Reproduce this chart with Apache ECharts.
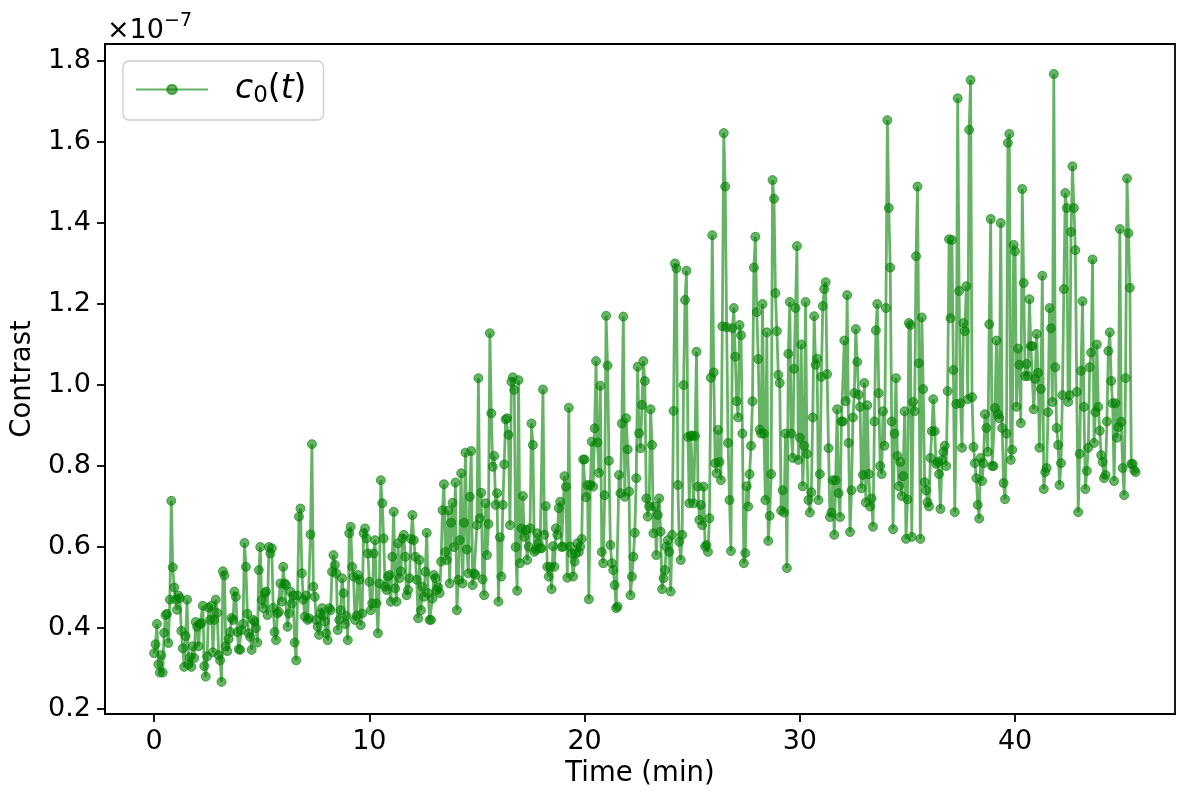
<!DOCTYPE html>
<html>
<head>
<meta charset="utf-8">
<script src="https://cdn.jsdelivr.net/npm/echarts@6/dist/echarts.min.js"></script>
<style>html,body{margin:0;padding:0;background:#fff}#c{width:1200px;height:800px}</style>
</head>
<body>
<div id="c"></div>
<script>
const SAMPLE_SECONDS = 4;
const seriesName = 'c0(t)';
// Contrast values in units of 1e-7, one row per minute (15 samples per minute)
const contrast_00_10 = [
  0.338,0.36,0.41,0.31,0.29,0.333,0.29,0.388,0.432,0.435,0.363,0.47,0.714,0.55,0.50,
  0.47,0.445,0.48,0.474,0.393,0.35,0.304,0.38,0.47,0.31,0.328,0.304,0.355,0.326,0.415,
  0.403,0.355,0.41,0.412,0.455,0.306,0.28,0.33,0.45,0.42,0.455,0.34,0.42,0.47,0.437,
  0.333,0.32,0.267,0.54,0.53,0.355,0.343,0.373,0.39,0.425,0.42,0.49,0.477,0.39,0.348,
  0.346,0.395,0.41,0.61,0.551,0.435,0.387,0.378,0.346,0.42,0.416,0.40,0.364,0.543,0.60,
  0.469,0.449,0.486,0.49,0.432,0.60,0.584,0.597,0.45,0.39,0.37,0.436,0.44,0.51,0.465,
  0.551,0.51,0.506,0.403,0.436,0.49,0.46,0.48,0.364,0.32,0.48,0.675,0.695,0.535,0.47,
  0.428,0.48,0.42,0.424,0.631,0.854,0.502,0.477,0.42,0.403,0.383,0.436,0.449,0.43,0.416,
  0.387,0.37,0.449,0.444,0.539,0.58,0.556,0.535,0.395,0.42,0.444,0.523,0.486,0.41,0.43,
  0.37,0.634,0.65,0.551,0.527,0.42,0.43,0.531,0.519,0.407,0.436,0.634,0.646,0.621,0.584
];
const contrast_10_20 = [
  0.514,0.444,0.461,0.584,0.617,0.461,0.387,0.51,0.765,0.708,0.621,0.502,0.494,0.527,0.531,
  0.465,0.576,0.687,0.498,0.465,0.609,0.523,0.54,0.621,0.63,0.576,0.481,0.494,0.523,0.62,
  0.679,0.617,0.576,0.519,0.424,0.568,0.444,0.502,0.477,0.539,0.635,0.486,0.42,0.42,0.473,
  0.531,0.523,0.494,0.50,0.486,0.564,0.691,0.755,0.588,0.568,0.69,0.51,0.66,0.709,0.60,
  0.759,0.444,0.519,0.617,0.782,0.51,0.66,0.833,0.594,0.535,0.724,0.837,0.506,0.535,0.531,
  0.654,1.017,0.671,0.734,0.52,0.481,0.708,0.58,0.657,1.128,0.93,0.798,0.825,0.704,0.733,
  0.465,0.624,0.527,0.704,0.804,0.915,0.918,0.877,0.654,1.008,1.019,0.988,0.60,0.492,1.012,
  0.56,0.646,0.726,0.625,0.642,0.568,0.601,0.646,0.905,0.852,0.588,0.593,0.634,0.61,0.597,
  0.597,0.989,0.63,0.701,0.551,0.527,0.551,0.496,0.602,0.551,0.646,0.63,0.696,0.712,0.60,
  0.601,0.775,0.749,0.524,0.944,0.601,0.584,0.527,0.564,0.584,0.609,0.588,0.601,0.62,0.816
];
const contrast_20_30 = [
  0.816,0.723,0.753,0.471,0.753,0.86,0.749,0.893,1.059,0.858,0.783,0.998,0.588,0.56,0.728,
  1.171,1.048,0.813,0.605,0.56,0.543,0.506,0.449,0.453,0.778,0.733,0.905,1.169,0.724,0.918,
  0.841,0.737,0.481,0.527,0.576,0.635,0.77,1.045,0.881,0.844,0.951,1.059,1.01,0.72,0.675,
  0.70,0.94,0.852,0.634,0.70,0.58,0.679,0.72,0.638,0.496,0.523,0.543,0.601,0.617,0.588,
  0.49,0.63,0.936,1.30,1.288,0.753,0.613,0.568,0.63,1.0,1.21,1.282,0.872,0.708,0.875,
  0.875,0.708,0.874,1.082,0.749,0.667,0.704,0.654,0.749,0.601,0.605,0.588,0.671,1.018,1.37,
  1.031,0.807,0.782,0.889,0.81,0.765,1.145,1.622,1.49,1.143,0.857,0.716,0.59,1.14,1.19,
  1.07,0.96,0.92,1.148,1.123,0.88,0.56,0.585,0.75,0.70,0.78,0.85,0.96,1.29,1.366,
  1.18,1.064,0.89,0.88,1.20,0.88,0.716,1.13,0.615,0.677,0.78,1.506,1.46,1.227,1.133,
  1.025,1.005,0.69,0.74,0.685,0.88,0.548,1.077,1.205,0.88,0.82,1.04,1.19,1.343,0.815
];
const contrast_30_40 = [
  0.87,1.10,0.75,0.85,1.205,0.83,0.716,0.685,0.735,0.92,1.17,1.05,1.065,0.716,0.78,
  1.02,1.195,1.237,1.254,1.027,0.844,0.674,0.685,0.765,0.63,0.765,0.94,0.733,0.674,0.91,
  0.91,1.11,0.96,1.222,0.857,0.637,0.74,0.92,0.98,1.138,1.057,0.976,0.946,0.745,0.778,
  1.005,0.71,0.95,0.78,0.70,0.72,0.65,0.91,1.135,1.20,0.98,0.80,0.78,0.935,0.85,
  1.19,1.654,1.437,1.29,0.91,0.644,0.88,1.017,0.825,0.75,0.81,0.726,0.775,0.935,0.62,
  0.718,1.153,1.148,0.625,0.958,0.935,1.318,1.49,1.054,0.62,1.167,0.99,0.76,0.74,0.71,
  0.70,0.82,0.886,0.965,0.886,0.805,0.81,0.78,0.694,0.815,0.835,0.85,0.80,0.985,1.36,
  1.165,1.358,1.037,0.686,0.953,1.708,1.232,0.955,0.845,1.153,1.133,1.244,0.965,1.63,1.753,
  0.97,0.847,0.807,0.77,0.704,0.67,0.82,0.763,0.807,0.928,0.894,0.835,1.15,1.41,0.80,
  0.80,0.943,1.11,0.928,0.918,1.40,0.894,0.758,0.718,0.88,1.598,1.62,0.815,0.84,1.346
];
const contrast_40_46 = [
  1.33,0.946,1.09,1.05,0.906,1.484,1.252,1.022,1.052,1.022,1.212,1.096,1.096,0.94,1.015,
  1.126,1.03,0.845,0.99,1.27,0.743,0.785,0.795,0.933,1.19,1.14,0.958,1.768,1.044,0.894,
  0.852,0.753,0.807,0.975,1.237,1.474,1.437,0.958,0.975,1.378,1.54,1.437,1.333,0.983,0.686,
  0.83,1.035,1.207,0.946,0.743,0.788,0.845,1.044,1.08,1.31,0.857,0.933,1.10,0.946,0.887,
  0.827,0.81,0.77,0.778,0.91,1.084,1.13,1.01,0.955,0.763,0.955,0.87,0.896,1.385,0.909,
  0.795,0.728,1.017,1.51,1.375,1.24,0.805,0.805,0.79,0.785
];
const xTickValues = [0, 10, 20, 30, 40];
const yTickValues = [0.2, 0.4, 0.6, 0.8, 1.0, 1.2, 1.4, 1.6, 1.8];

const contrast = [].concat(contrast_00_10, contrast_10_20, contrast_20_30, contrast_30_40, contrast_40_46);
const timeMin = contrast.map((_, i) => i * SAMPLE_SECONDS / 60);
const seriesData = contrast.map((v, i) => [timeMin[i], v]);

const FONT = 'DejaVu Sans';
const FS = 27;
const chart = echarts.init(document.getElementById('c'), null, {renderer: 'canvas'});
chart.setOption({
  animation: false,
  backgroundColor: '#ffffff',
  grid: {left: 105, right: 25, top: 44, bottom: 86, show: true, borderColor: '#000', borderWidth: 1.8, backgroundColor: 'transparent'},
  xAxis: {
    type: 'value', min: -2.28, max: 47.43,
    name: 'Time (min)', nameLocation: 'middle', nameGap: 43,
    nameTextStyle: {fontFamily: FONT, fontSize: 27.5, color: '#000'},
    axisLine: {show: true, onZero: false, lineStyle: {color: '#000', width: 1.8}},
    axisTick: {show: true, inside: false, length: 8, lineStyle: {color: '#000', width: 1.8}, customValues: xTickValues},
    axisLabel: {show: true, margin: 14, fontFamily: FONT, fontSize: FS, color: '#000', customValues: xTickValues, formatter: v => String(v)},
    splitLine: {show: false}
  },
  yAxis: {
    type: 'value', min: 0.1877, max: 1.842,
    name: 'Contrast', nameLocation: 'middle', nameGap: 57, nameRotate: 90,
    nameTextStyle: {fontFamily: FONT, fontSize: 27.5, color: '#000'},
    axisLine: {show: true, onZero: false, lineStyle: {color: '#000', width: 1.8}},
    axisTick: {show: true, inside: false, length: 8, lineStyle: {color: '#000', width: 1.8}, customValues: yTickValues},
    axisLabel: {show: true, margin: 14, fontFamily: FONT, fontSize: FS, color: '#000', customValues: yTickValues, formatter: v => v.toFixed(1)},
    splitLine: {show: false}
  },
  legend: {
    show: true, left: 123, top: 61, orient: 'horizontal',
    padding: [12, 17, 12, 12],
    backgroundColor: 'rgba(255,255,255,0.8)', borderColor: '#cccccc', borderWidth: 1.3, borderRadius: 6,
    itemWidth: 72, itemHeight: 12,
    data: [seriesName],
    formatter: () => '{g|}{i|c}{s|0}{p|(}{i|t}{p|)}',
    textStyle: {
      rich: {
        g: {width: 22, lineHeight: 37},
        i: {fontFamily: FONT, fontStyle: 'italic', fontSize: 33, color: '#000', lineHeight: 37, verticalAlign: 'middle'},
        p: {fontFamily: FONT, fontSize: 33, color: '#000', lineHeight: 37, verticalAlign: 'middle'},
        s: {fontFamily: FONT, fontSize: 23, color: '#000', lineHeight: 37, verticalAlign: 'bottom'}
      }
    }
  },
  graphic: [{
    type: 'text', left: 107, top: 12,
    style: {
      text: '{a|×10}{b|−7}',
      rich: {
        a: {fontFamily: FONT, fontSize: FS, fill: '#000', lineHeight: 32, verticalAlign: 'bottom'},
        b: {fontFamily: FONT, fontSize: 19, fill: '#000', lineHeight: 32, verticalAlign: 'top'}
      }
    }
  }],
  series: [{
    name: seriesName, type: 'line', data: seriesData,
    symbol: 'circle', symbolSize: 9, showSymbol: true, showAllSymbol: true,
    lineStyle: {color: 'rgba(0,128,0,0.6)', width: 2.8},
    itemStyle: {color: 'rgba(0,128,0,0.6)', borderColor: 'rgba(0,128,0,0.6)', borderWidth: 1},
    emphasis: {disabled: true},
    z: 2
  }]
});
</script>
</body>
</html>
